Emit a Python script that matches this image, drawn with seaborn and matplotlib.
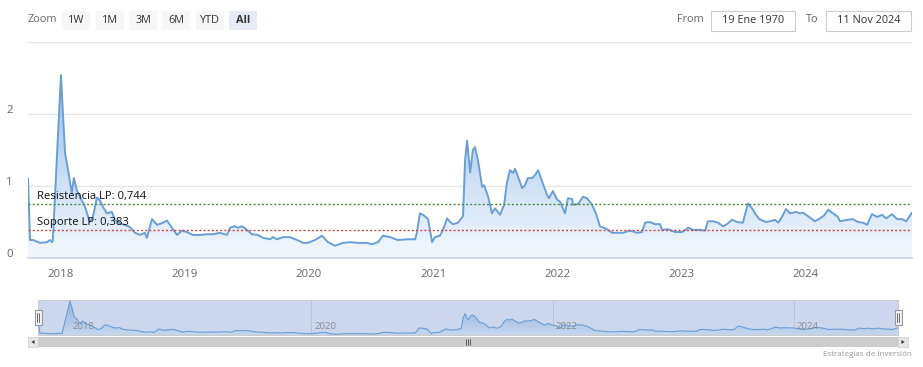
import matplotlib
matplotlib.use("Agg")
import matplotlib.dates as mdates
import matplotlib.patches as patches
import matplotlib.pyplot as plt
import matplotlib.transforms as mtransforms
import numpy as np
import pandas as pd
import seaborn as sns
from matplotlib.colors import LinearSegmentedColormap

# series
dates = [
    "2017-09-26", "2017-10-02", "2017-10-11", "2017-10-31", "2017-11-21", "2017-11-30",
    "2017-12-05", "2017-12-08", "2018-01-01", "2018-01-13", "2018-01-22", "2018-02-02",
    "2018-02-08", "2018-02-17", "2018-02-26", "2018-03-13", "2018-03-27", "2018-04-05",
    "2018-04-17", "2018-04-26", "2018-05-05", "2018-05-16", "2018-05-31", "2018-06-09",
    "2018-06-24", "2018-07-08", "2018-07-23", "2018-08-07", "2018-08-22", "2018-09-05",
    "2018-09-11", "2018-09-26", "2018-10-11", "2018-10-28", "2018-11-09", "2018-11-24",
    "2018-12-09", "2018-12-23", "2019-01-07", "2019-01-25", "2019-02-14", "2019-03-07",
    "2019-03-25", "2019-04-14", "2019-05-05", "2019-05-14", "2019-05-28", "2019-06-06",
    "2019-06-18", "2019-07-03", "2019-07-17", "2019-08-04", "2019-08-19", "2019-09-09",
    "2019-09-17", "2019-09-29", "2019-10-17", "2019-11-06", "2019-11-27", "2019-12-15",
    "2019-12-29", "2020-01-19", "2020-02-09", "2020-02-26", "2020-03-18", "2020-04-10",
    "2020-05-01", "2020-05-25", "2020-06-20", "2020-07-05", "2020-07-23", "2020-08-06",
    "2020-08-27", "2020-09-19", "2020-10-16", "2020-11-09", "2020-11-14", "2020-11-23",
    "2020-12-02", "2020-12-17", "2020-12-29", "2021-01-06", "2021-01-21", "2021-01-30",
    "2021-02-11", "2021-02-20", "2021-02-28", "2021-03-15", "2021-03-30", "2021-04-05",
    "2021-04-11", "2021-04-20", "2021-04-28", "2021-05-04", "2021-05-13", "2021-05-25",
    "2021-05-31", "2021-06-12", "2021-06-23", "2021-07-02", "2021-07-17", "2021-07-29",
    "2021-08-06", "2021-08-15", "2021-08-24", "2021-08-30", "2021-09-08", "2021-09-20",
    "2021-09-28", "2021-10-07", "2021-10-19", "2021-10-28", "2021-11-06", "2021-11-18",
    "2021-12-02", "2021-12-08", "2021-12-20", "2022-01-01", "2022-01-10", "2022-01-24",
    "2022-02-02", "2022-02-14", "2022-02-17", "2022-03-04", "2022-03-18", "2022-03-30",
    "2022-04-14", "2022-04-26", "2022-05-07", "2022-05-28", "2022-06-12", "2022-06-26",
    "2022-07-14", "2022-08-04", "2022-08-24", "2022-09-08", "2022-09-17", "2022-10-01",
    "2022-10-16", "2022-10-31", "2022-11-06", "2022-11-24", "2022-12-14", "2023-01-04",
    "2023-01-22", "2023-02-05", "2023-02-26", "2023-03-13", "2023-03-21", "2023-04-05",
    "2023-04-20", "2023-05-05", "2023-05-16", "2023-05-31", "2023-06-15", "2023-07-02",
    "2023-07-17", "2023-07-29", "2023-08-07", "2023-08-19", "2023-09-08", "2023-09-20",
    "2023-10-05", "2023-10-14", "2023-10-25", "2023-11-06", "2023-11-18", "2023-12-06",
    "2023-12-17", "2023-12-26", "2024-01-13", "2024-01-30", "2024-02-14", "2024-02-26",
    "2024-03-09", "2024-03-24", "2024-04-07", "2024-04-13", "2024-05-04", "2024-05-21",
    "2024-06-05", "2024-06-20", "2024-07-02", "2024-07-16", "2024-07-31", "2024-08-15",
    "2024-08-27", "2024-09-13", "2024-09-28", "2024-10-13", "2024-10-25", "2024-11-11",
]
values = [
    1.11, 0.25, 0.25, 0.21, 0.22, 0.25,
    0.22, 0.24, 2.54, 1.46, 1.22, 0.90,
    1.11, 0.94, 0.85, 0.71, 0.50, 0.57,
    0.84, 0.80, 0.71, 0.62, 0.64, 0.53,
    0.48, 0.46, 0.43, 0.35, 0.32, 0.35,
    0.28, 0.54, 0.46, 0.49, 0.52, 0.42,
    0.32, 0.38, 0.36, 0.32, 0.32, 0.33,
    0.33, 0.35, 0.32, 0.42, 0.44, 0.42,
    0.44, 0.39, 0.33, 0.32, 0.28, 0.26,
    0.29, 0.26, 0.29, 0.29, 0.25, 0.21,
    0.21, 0.25, 0.31, 0.22, 0.17, 0.21,
    0.22, 0.21, 0.21, 0.19, 0.22, 0.31,
    0.29, 0.25, 0.26, 0.26, 0.35, 0.62,
    0.60, 0.54, 0.22, 0.29, 0.31, 0.39,
    0.55, 0.50, 0.47, 0.49, 0.58, 1.36,
    1.63, 1.19, 1.50, 1.54, 1.36, 0.99,
    1.01, 0.85, 0.62, 0.69, 0.60, 0.74,
    1.04, 1.22, 1.18, 1.24, 1.13, 0.97,
    1.01, 1.11, 1.11, 1.15, 1.22, 1.06,
    0.88, 0.83, 0.93, 0.81, 0.78, 0.62,
    0.83, 0.82, 0.74, 0.75, 0.85, 0.83,
    0.74, 0.61, 0.44, 0.40, 0.35, 0.35,
    0.35, 0.38, 0.35, 0.36, 0.49, 0.50,
    0.47, 0.47, 0.39, 0.40, 0.36, 0.36,
    0.42, 0.39, 0.39, 0.38, 0.51, 0.51,
    0.49, 0.44, 0.47, 0.53, 0.50, 0.49,
    0.76, 0.69, 0.62, 0.54, 0.50, 0.51,
    0.53, 0.49, 0.57, 0.68, 0.62, 0.64,
    0.62, 0.63, 0.57, 0.51, 0.55, 0.59,
    0.67, 0.62, 0.57, 0.51, 0.53, 0.54,
    0.50, 0.49, 0.46, 0.61, 0.57, 0.60,
    0.55, 0.61, 0.54, 0.54, 0.51, 0.63,
]

year_labels = ["2018", "2019", "2020", "2021", "2022", "2023", "2024"]
nav_year_labels = ["2018", "2020", "2022", "2024"]
y_ticks = [0, 1, 2, 3]
y_tick_labels = ["0", "1", "2", ""]
resistance = 0.744
support = 0.383
resistance_label = "Resistencia LP: 0,744"
support_label = "Soporte LP: 0,383"
zoom_buttons = ["1W", "1M", "3M", "6M", "YTD", "All"]
date_from = "19 Ene 1970"
date_to = "11 Nov 2024"
credit = "Estrategias de Inversión"

W, H = 923, 367
LINE = "#6a9fd6"
GRAY = "#666666"

sns.set_theme(style="white")
plt.rcParams["font.family"] = ["Open Sans", "DejaVu Sans"]

fig = plt.figure(figsize=(W / 100, H / 100), dpi=100)


def box(x0, y0, x1, y1):
    # pixel rectangle (top-left origin) to figure fraction
    return [x0 / W, 1 - y1 / H, (x1 - x0) / W, (y1 - y0) / H]


def fx(x):
    return x / W


def fy(y):
    return 1 - y / H


df = pd.DataFrame({"date": pd.to_datetime(dates), "value": values})
x_start, x_end = df["date"].iloc[0], df["date"].iloc[-1]


def gradient_area(ax, top, cmap):
    poly = ax.fill_between(df["date"], df["value"], 0, color="none", lw=0)
    grad = np.linspace(1, 0, 256).reshape(-1, 1)
    im = ax.imshow(grad, aspect="auto", cmap=cmap, origin="upper",
                   extent=[mdates.date2num(x_start), mdates.date2num(x_end), 0, top],
                   zorder=1)
    im.set_clip_path(poly.get_paths()[0], transform=ax.transData)


# ---- main plot
ax = fig.add_axes(box(28, 42, 912, 258))
main_cmap = LinearSegmentedColormap.from_list("main", ["#f4f8fd", "#86b5e7"])
gradient_area(ax, 3, main_cmap)
sns.lineplot(data=df, x="date", y="value", ax=ax, color=LINE, linewidth=1.4, zorder=4)

ax.set_xlim(x_start, x_end)
ax.set_ylim(0, 3)
ax.set_yticks(y_ticks)
ax.set_yticklabels(y_tick_labels)
ax.yaxis.grid(True, color="#e6e6e6", lw=1)
ax.set_axisbelow(True)
ax.set_xticks([pd.Timestamp(f"{y}-01-01") for y in year_labels])
ax.set_xticklabels(year_labels)
ax.tick_params(axis="x", length=5, width=1, color="#ccd6eb", labelcolor=GRAY,
               labelsize=8.2, pad=3)
ax.tick_params(axis="y", length=0, labelcolor=GRAY, labelsize=8.2, pad=11)
shift = mtransforms.ScaledTranslation(0, 5 / 100, fig.dpi_scale_trans)
for lab in ax.get_yticklabels():
    lab.set_transform(lab.get_transform() + shift)
ax.set_xlabel("")
ax.set_ylabel("")
for side in ["top", "right", "left"]:
    ax.spines[side].set_visible(False)
ax.spines["bottom"].set_color("#ccd6eb")

ax.axhline(resistance, color="#4d8a3b", lw=1, ls=(0, (1.5, 1.5)), zorder=5)
ax.axhline(support, color="#c84a4a", lw=1, ls=(0, (1.5, 1.5)), zorder=5)
blend = mtransforms.blended_transform_factory(ax.transAxes, ax.transData)
lift = mtransforms.ScaledTranslation(0, 2 / 100, fig.dpi_scale_trans)
ax.text(9 / 884, resistance, resistance_label, transform=blend + lift,
        fontsize=8.1, color="#111111", va="bottom", ha="left", zorder=6)
ax.text(9 / 884, support, support_label, transform=blend + lift,
        fontsize=8.1, color="#111111", va="bottom", ha="left", zorder=6)

# ---- range selector and date inputs
fig.text(fx(28), fy(20), "Zoom", fontsize=7.8, color=GRAY, va="center", ha="left")
btn_x = [62, 96, 129, 162, 196, 229]
for label, bx in zip(zoom_buttons, btn_x):
    active = label == "All"
    fig.patches.append(patches.Rectangle((fx(bx), fy(30)), 28 / W, 19 / H,
                                         transform=fig.transFigure,
                                         facecolor="#e6ebf5" if active else "#f7f7f7",
                                         edgecolor="none"))
    fig.text(fx(bx + 14), fy(20.5), label, fontsize=7.8, color="#333333",
             fontweight="bold" if active else "normal", va="center", ha="center")

fig.text(fx(677), fy(20), "From", fontsize=7.8, color=GRAY, va="center", ha="left")
fig.text(fx(806), fy(20), "To", fontsize=7.8, color=GRAY, va="center", ha="left")
for (x0, x1), label in zip([(711, 795), (826, 911)], [date_from, date_to]):
    fig.patches.append(patches.Rectangle((fx(x0), fy(31)), (x1 - x0) / W, 20 / H,
                                         transform=fig.transFigure, facecolor="white",
                                         edgecolor="#cccccc", lw=0.8))
    fig.text(fx((x0 + x1) / 2), fy(20.5), label, fontsize=7.8, color="#333333",
             va="center", ha="center")

# ---- navigator
nav = fig.add_axes(box(38, 300, 898, 335))
nav_cmap = LinearSegmentedColormap.from_list("nav", ["#c9d7ee", "#8cb4e4"])
nav.set_facecolor("#ccd6ed")
gradient_area(nav, 2.6, nav_cmap)
sns.lineplot(data=df, x="date", y="value", ax=nav, color=LINE, linewidth=0.8, zorder=4)
nav.set_xlim(x_start, x_end)
nav.set_ylim(0.12, 2.6)
nav.set_xticks([pd.Timestamp(f"{y}-01-01") for y in nav_year_labels])
nav.xaxis.grid(True, color="#b8c4dc", lw=0.7)
nav.set_axisbelow(True)
nav.set_xticklabels([])
nav.set_yticks([])
nav.tick_params(length=0)
nav.set_xlabel("")
nav.set_ylabel("")
for lab in nav_year_labels:
    nav.annotate(lab, (pd.Timestamp(f"{lab}-01-01"), 0), xycoords=("data", "axes fraction"),
                 xytext=(2, 3), textcoords="offset points", fontsize=6.8,
                 color="#8c8c8c", ha="left", va="bottom", zorder=6)
for s in nav.spines.values():
    s.set_color("#cccccc")
    s.set_linewidth(0.8)

for hx in [38, 898]:
    fig.patches.append(patches.Rectangle((fx(hx - 3.5), fy(325)), 7 / W, 15 / H,
                                         transform=fig.transFigure, facecolor="#f2f2f2",
                                         edgecolor="#999999", lw=0.8, zorder=10))
    for dx in [-1, 1]:
        fig.lines.append(plt.Line2D([fx(hx + dx), fx(hx + dx)], [fy(313), fy(322)],
                                    transform=fig.transFigure, color="#333333",
                                    lw=0.5, zorder=11))

# ---- scrollbar
fig.patches.append(patches.Rectangle((fx(28), fy(347)), 880 / W, 10 / H,
                                     transform=fig.transFigure, facecolor="#f2f2f2",
                                     edgecolor="none"))
fig.patches.append(patches.Rectangle((fx(38), fy(347)), 860 / W, 10 / H,
                                     transform=fig.transFigure, facecolor="#cccccc",
                                     edgecolor="none"))
for bx, direction in [(28, -1), (898, 1)]:
    fig.patches.append(patches.Rectangle((fx(bx), fy(347)), 10 / W, 10 / H,
                                         transform=fig.transFigure, facecolor="#e6e6e6",
                                         edgecolor="#cccccc", lw=0.5))
    cx = bx + 5
    tri = [(fx(cx - 1.5 * direction), fy(340)), (fx(cx - 1.5 * direction), fy(344)),
           (fx(cx + 1.5 * direction), fy(342))]
    fig.patches.append(patches.Polygon(tri, closed=True, transform=fig.transFigure,
                                       facecolor="#333333", edgecolor="none"))
for gx in [466, 468, 470]:
    fig.lines.append(plt.Line2D([fx(gx), fx(gx)], [fy(339), fy(345)],
                                transform=fig.transFigure, color="#333333", lw=0.5))

fig.text(fx(912), fy(355), credit, fontsize=5.8, color="#999999", va="center", ha="right")

fig.savefig("out.png", dpi=100, facecolor="white")
